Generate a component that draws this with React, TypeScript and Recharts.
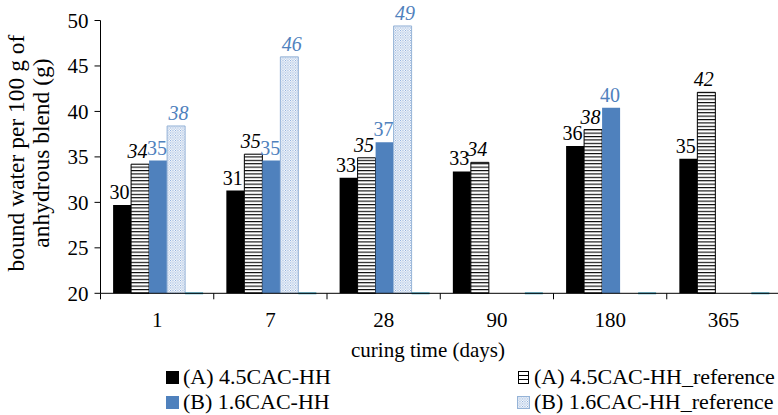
import React from "react";
import { BarChart, Bar, XAxis, YAxis, LabelList, Legend } from "recharts";

const days = ["1", "7", "28", "90", "180", "365"];
const blendA = [29.7, 31.3, 32.7, 33.4, 36.2, 34.8];
const blendARef = [34.2, 35.3, 34.9, 34.4, 38.0, 42.1];
const blendB = [34.6, 34.6, 36.6, null, 40.4, null];
const blendBRef = [38.4, 46.0, 49.4, null, null, null];
const baseLine = [20, 20, 20, 20, 20, 20];
const yTicks = [20, 25, 30, 35, 40, 45, 50];

const seriesNames = [
  "(A) 4.5CAC-HH",
  "(A) 4.5CAC-HH_reference",
  "(B) 1.6CAC-HH",
  "(B) 1.6CAC-HH_reference",
];

const data = days.map((day, i) => ({
  day,
  a: blendA[i],
  aRef: blendARef[i],
  b: blendB[i],
  bRef: blendBRef[i],
  base: baseLine[i],
}));

const FONT = "Liberation Serif, Times New Roman, serif";
const BLUE = "#4f81bd";
const W = 800;
const H = 415;
const Y_AXIS_W = 100.5;
const MARGIN = { top: 20.5, right: 20, bottom: 81.7, left: 0 };
const PLOT_W = W - MARGIN.left - MARGIN.right - Y_AXIS_W;
const CAT_W = PLOT_W / days.length;

function DayTick(props: any) {
  const { x, y, payload } = props;
  const left = x - CAT_W / 2;
  return (
    <g>
      <line x1={left} x2={left} y1={y} y2={y + 6} stroke="#000" />
      <text
        x={x}
        y={y + 27}
        textAnchor="middle"
        dominantBaseline="central"
        fontSize={21}
        fontFamily={FONT}
        fill="#000"
      >
        {payload.value}
      </text>
    </g>
  );
}

// dx nudges the value labels a little, as in the original figure
const makeLabel = (color: string, italic: boolean, dx: number) => (p: any) => {
  const v = p.value;
  if (v == null) return null;
  const x = Number(p.x) + Number(p.width) / 2 + dx;
  const y = Number(p.y);
  return (
    <text
      x={x}
      y={y - 6}
      textAnchor="middle"
      fill={color}
      fontStyle={italic ? "italic" : "normal"}
      fontSize={20}
      fontFamily={FONT}
    >
      {Math.round(v)}
    </text>
  );
};

// the flat aqua marks sitting on the axis
function BaseDash(p: any) {
  if (p.x == null || p.width == null) return null;
  return <rect x={p.x} y={p.y + p.height - 1} width={p.width} height={2} fill="#4bacc6" />;
}

function YTitle() {
  const cy = 153;
  return (
    <g fontFamily={FONT} fontSize={23.5} fill="#000">
      <text x={16} y={cy} transform={`rotate(-90, 16, ${cy})`} textAnchor="middle" dominantBaseline="central">
        bound water per 100 g of
      </text>
      <text x={41} y={cy} transform={`rotate(-90, 41, ${cy})`} textAnchor="middle" dominantBaseline="central">
        anhydrous blend (g)
      </text>
    </g>
  );
}

function XTitle() {
  return (
    <text x={428} y={350} textAnchor="middle" dominantBaseline="central" fontFamily={FONT} fontSize={21} fill="#000">
      curing time (days)
    </text>
  );
}

function Swatch({ k }: { k: string }) {
  if (k === "a") return <svg width={13} height={13}><rect x={0} y={0} width={13} height={13} fill="#000" /></svg>;
  if (k === "b") return <svg width={13} height={13}><rect x={0} y={0} width={13} height={13} fill={BLUE} /></svg>;
  if (k === "aRef")
    return (
      <svg width={13} height={13}>
        <rect x={1.5} y={0.5} width={10} height={12} fill="#fff" stroke="#000" />
        <line x1={1.5} x2={11.5} y1={4.5} y2={4.5} stroke="#000" />
        <line x1={1.5} x2={11.5} y1={8.5} y2={8.5} stroke="#000" />
      </svg>
    );
  return (
    <svg width={13} height={13}>
      <rect x={0.5} y={0.5} width={12} height={12} fill="url(#dotsB)" stroke="#95b3d7" />
    </svg>
  );
}

function LegendBox(props: any) {
  const payload = (props.payload || []).filter((e: any) => e.type !== "none");
  const cols = [166, 517];
  const rows = [377, 402];
  return (
    <div style={{ position: "relative", width: W, height: H }}>
      {payload.map((e: any, i: number) => (
        <div
          key={e.value}
          style={{
            position: "absolute",
            left: cols[i % 2],
            top: rows[Math.floor(i / 2)] - 13,
            height: 26,
            display: "flex",
            alignItems: "center",
            whiteSpace: "nowrap",
            fontFamily: FONT,
            fontSize: 22,
            color: "#000",
          }}
        >
          <Swatch k={e.dataKey} />
          <span style={{ marginLeft: 4 }}>{e.value}</span>
        </div>
      ))}
    </div>
  );
}

export default function App() {
  return (
    <div
      style={{
        position: "absolute",
        left: 0,
        top: 0,
        width: 778,
        height: 415,
        overflow: "hidden",
        background: "#fff",
      }}
    >
      <BarChart
        width={W}
        height={H}
        data={data}
        margin={MARGIN}
        barCategoryGap={12.6}
        barGap={0}
        style={{ fontFamily: FONT }}
      >
        <defs>
          <pattern id="hatchA" width={4} height={3.4} patternUnits="userSpaceOnUse">
            <rect width={4} height={3.4} fill="#fff" />
            <rect width={4} height={1.1} fill="#000" />
          </pattern>
          <pattern id="dotsB" width={2.5} height={2.5} patternUnits="userSpaceOnUse">
            <rect width={2.5} height={2.5} fill="#fff" />
            <rect width={1} height={1} fill="#7fa3d6" />
            <rect x={1.25} y={1.25} width={1} height={1} fill="#7fa3d6" />
          </pattern>
        </defs>
        <XAxis
          dataKey="day"
          height={40}
          stroke="#000"
          tickLine={false}
          tickSize={0}
          tickMargin={0}
          tick={<DayTick />}
          interval={0}
          label={XTitle}
        />
        <YAxis
          width={Y_AXIS_W}
          domain={[20, 50]}
          ticks={yTicks}
          stroke="#000"
          tickSize={6}
          tickMargin={6}
          tick={{ fill: "#000", fontSize: 21, fontFamily: FONT }}
          label={YTitle}
        />
        <Legend
          layout="horizontal"
          verticalAlign="middle"
          align="center"
          wrapperStyle={{ top: 0, left: 0, width: W, height: H }}
          content={LegendBox}
        />
        <Bar dataKey="a" name={seriesNames[0]} fill="#000" isAnimationActive={false}>
          <LabelList dataKey="a" content={makeLabel("#000", false, -2.5)} />
        </Bar>
        <Bar dataKey="aRef" name={seriesNames[1]} fill="url(#hatchA)" stroke="#000" strokeWidth={1} isAnimationActive={false}>
          <LabelList dataKey="aRef" content={makeLabel("#000", true, -2.5)} />
        </Bar>
        <Bar dataKey="b" name={seriesNames[2]} fill={BLUE} isAnimationActive={false}>
          <LabelList dataKey="b" content={makeLabel(BLUE, false, -1)} />
        </Bar>
        <Bar dataKey="bRef" name={seriesNames[3]} fill="url(#dotsB)" stroke="#95b3d7" strokeWidth={1} isAnimationActive={false}>
          <LabelList dataKey="bRef" content={makeLabel(BLUE, true, 2.5)} />
        </Bar>
        <Bar dataKey="base" legendType="none" fill="#4bacc6" shape={BaseDash} isAnimationActive={false} />
      </BarChart>
    </div>
  );
}
